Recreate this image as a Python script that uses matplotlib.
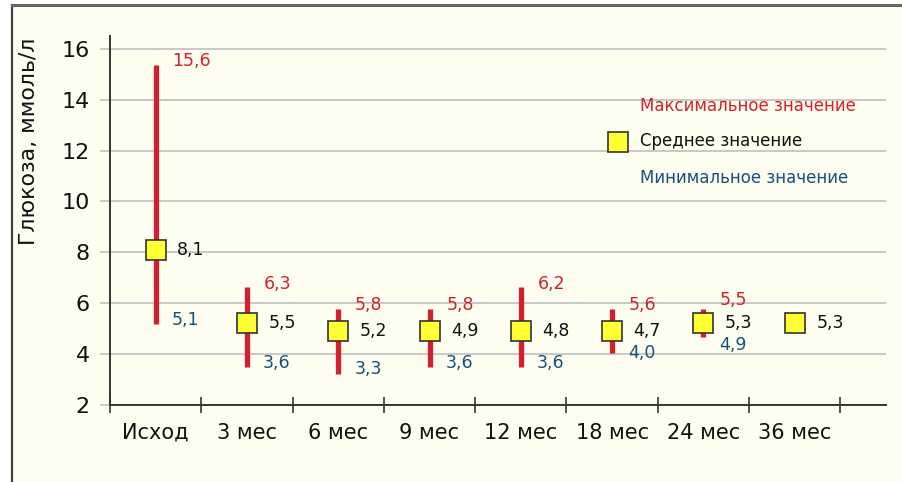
import matplotlib
matplotlib.use("Agg")
import matplotlib.pyplot as plt
from matplotlib.lines import Line2D
from matplotlib.patches import Rectangle

# ---- data ----
categories = ["Исход", "3 мес", "6 мес", "9 мес", "12 мес", "18 мес", "24 мес", "36 мес"]
# positions of marks as drawn
max_vals = [15.35, 6.62, 5.78, 5.78, 6.62, 5.78, 5.76, None]
mean_vals = [8.08, 5.21, 4.89, 4.89, 4.89, 4.91, 5.21, 5.21]
min_vals = [5.17, 3.49, 3.23, 3.49, 3.49, 4.05, 4.68, None]
# value labels as printed
max_labels = ["15,6", "6,3", "5,8", "5,8", "6,2", "5,6", "5,5", None]
mean_labels = ["8,1", "5,5", "5,2", "4,9", "4,8", "4,7", "5,3", "5,3"]
min_labels = ["5,1", "3,6", "3,3", "3,6", "3,6", "4,0", "4,9", None]
yticks = [2, 4, 6, 8, 10, 12, 14, 16]

RED = "#d3202e"
BLUE = "#17507e"
YELLOW = "#ffff33"
BG = "#fdfdf0"

plt.rcParams['font.family'] = ['DejaVu Sans']

W, H = 903, 482
fig = plt.figure(figsize=(W / 100, H / 100), dpi=100)
fig.patch.set_facecolor("white")

# cream panel with border
fig.patches.append(Rectangle((12 / W, 0), 1, 1 - 5 / H, transform=fig.transFigure,
                             facecolor=BG, edgecolor="none", zorder=-10))
fig.lines.append(Line2D([12 / W, 12 / W], [0, 1 - 5 / H], transform=fig.transFigure,
                        color="#444444", lw=1.6))
fig.lines.append(Line2D([12 / W, 1], [1 - 5 / H, 1 - 5 / H], transform=fig.transFigure,
                        color="#666666", lw=2.2))

left, right, bottom, top = 110, 886, 405, 36
ax = fig.add_axes([left / W, (H - bottom) / H, (right - left) / W, (bottom - top) / H])
ax.set_facecolor("none")

x = list(range(len(categories)))
ax.set_xlim(-0.5, 8.0)
ax.set_ylim(2, 16.5)

# grid
for yv in yticks[1:]:
    ax.axhline(yv, color="#c8c8c8", lw=1.4, zorder=0)

# range bars
for i in x:
    if max_vals[i] is not None:
        ax.plot([i, i], [min_vals[i], max_vals[i]], color=RED, lw=3.8,
                solid_capstyle="butt", zorder=2)
# mean squares
ax.plot(x, mean_vals, linestyle="none", marker="s", markersize=14.5,
        markerfacecolor=YELLOW, markeredgecolor="#333333", markeredgewidth=1.2, zorder=3)

# labels
for i in x:
    if max_labels[i] is not None:
        ly = max(max_vals[i] + 0.15, mean_vals[i] + 0.9)
        ax.annotate(max_labels[i], (i, ly), xytext=(12, 0), textcoords="offset points",
                    ha="left", va="center", color=RED, fontsize=12.5)
    if min_labels[i] is not None:
        ly = min(min_vals[i] + 0.18, mean_vals[i] - 0.85)
        ax.annotate(min_labels[i], (i, ly), xytext=(11.5, 0), textcoords="offset points",
                    ha="left", va="center", color=BLUE, fontsize=12.5)
    ax.annotate(mean_labels[i], (i, mean_vals[i]), xytext=(15.5, 0), textcoords="offset points",
                ha="left", va="center", color="#111111", fontsize=12.5)

# axes styling
for s in ["top", "right"]:
    ax.spines[s].set_visible(False)
for s in ["left", "bottom"]:
    ax.spines[s].set_color("#333333")
    ax.spines[s].set_linewidth(1.4)

ax.set_yticks(yticks)
ax.set_yticklabels([str(v) for v in yticks])
ax.tick_params(axis="y", direction="out", length=7.5, width=1.2, color="#c0c0c0",
               labelsize=16, pad=7, labelcolor="#111111")

ax.set_xticks([i - 0.5 for i in range(len(categories) + 1)])
ax.set_xticklabels([])
ax.set_xticks(x, minor=True)
ax.set_xticklabels(categories, minor=True)
ax.tick_params(axis="x", which="major", direction="inout", length=11, width=1.2, color="#333333")
ax.tick_params(axis="x", which="minor", length=0, labelsize=15, pad=13, labelcolor="#111111")

ax.set_ylabel("Глюкоза, ммоль/л", fontsize=15.8, color="#111111")
ax.yaxis.set_label_coords(-81 / (right - left), (bottom - 141) / (bottom - top))
ax.yaxis.label.set_va("center")

# legend
ax.text(0.683, 0.810, "Максимальное значение", transform=ax.transAxes, color=RED,
        fontsize=12, ha="left", va="center")
ax.text(0.683, 0.715, "Среднее значение", transform=ax.transAxes, color="#111111",
        fontsize=12, ha="left", va="center")
ax.text(0.683, 0.615, "Минимальное значение", transform=ax.transAxes, color=BLUE,
        fontsize=12, ha="left", va="center")
ax.plot([0.655], [0.713], transform=ax.transAxes, linestyle="none", marker="s",
        markersize=14.5, markerfacecolor=YELLOW, markeredgecolor="#333333",
        markeredgewidth=1.2, clip_on=False)

fig.savefig("out.png", dpi=100, facecolor=fig.get_facecolor())
